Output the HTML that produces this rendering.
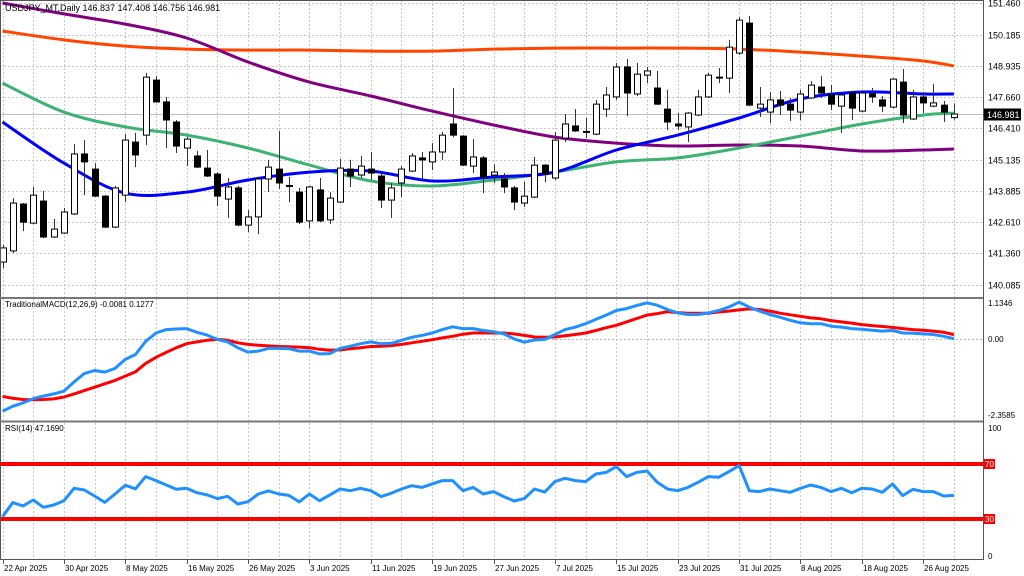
<!DOCTYPE html>
<html><head><meta charset="utf-8"><title>USDJPY Daily</title>
<style>
html,body{margin:0;padding:0;background:#fff;}
svg{display:block;font-family:"Liberation Sans",sans-serif;}
</style></head>
<body>
<svg id="chart" width="1024" height="576" viewBox="0 0 1024 576" xmlns="http://www.w3.org/2000/svg">
<rect x="0" y="0" width="1024" height="576" fill="#fff"/>
<g id="grid"></g>
<g id="ma"></g>
<g id="candles"></g>
<g id="macd"></g>
<g id="rsi"></g>
<g id="axes"></g>
<text x="5" y="11" font-size="9" fill="#000">USDJPY_MT,Daily  146.837 147.408 146.756 146.981</text>
<text x="5" y="307" font-size="8" fill="#000">TraditionalMACD(12,26,9) -0.0081 0.1277</text>
<text x="5" y="431" font-size="8" fill="#000">RSI(14) 47.1690</text>
</svg>
<script>
const opens=[141.01,141.46,143.35,142.58,143.47,142.02,142.18,142.95,145.37,144.76,143.67,142.42,143.71,145.85,146.13,148.35,147.47,146.66,145.61,145.29,144.80,144.56,143.55,144.00,142.50,142.83,144.36,144.76,144.10,143.83,142.67,143.92,142.71,143.43,144.76,144.52,144.76,144.48,143.51,144.20,144.68,145.21,145.05,145.45,146.58,146.09,144.88,145.21,144.52,144.36,144.00,143.39,143.63,144.92,144.40,146.01,146.50,146.28,146.17,147.18,147.67,148.88,147.79,148.55,148.03,147.18,146.58,146.46,146.94,147.67,148.47,148.43,149.44,150.65,147.22,147.06,147.55,147.38,147.06,147.63,148.07,147.75,147.30,147.83,147.10,147.79,147.55,147.26,148.27,146.78,147.67,147.30,147.34,146.837];
const highs=[141.70,143.59,143.39,144.04,143.88,142.75,143.19,145.77,145.93,145.00,143.71,144.08,146.17,146.22,148.64,148.51,147.67,146.74,146.05,145.49,145.53,144.64,144.40,144.08,143.11,144.40,145.13,146.30,144.44,144.00,144.08,144.40,143.83,145.17,145.13,145.29,145.45,144.56,144.20,144.88,145.41,145.45,145.81,146.26,148.03,146.13,145.97,145.29,144.96,144.60,144.08,144.24,145.25,144.96,146.26,146.98,147.18,146.82,147.55,148.07,149.04,149.20,149.04,148.88,148.72,147.95,147.02,147.06,147.95,148.64,148.84,149.97,150.89,150.93,148.07,147.87,147.91,147.63,147.95,148.31,148.51,148.15,147.79,147.87,147.87,148.03,147.71,148.43,148.80,147.95,147.87,148.19,147.51,147.408];
const lows=[140.77,141.37,142.26,142.54,141.98,141.98,142.14,142.91,143.71,143.63,142.38,142.38,143.43,144.84,145.73,147.43,145.61,145.41,144.88,144.80,144.44,143.27,142.79,142.46,142.22,142.14,143.83,143.96,143.43,142.54,142.38,142.62,142.54,143.39,144.04,144.40,144.32,143.19,142.79,143.63,144.64,144.32,144.72,145.13,146.05,144.88,144.60,143.79,144.20,143.79,143.11,143.23,143.59,144.24,144.32,145.85,146.26,146.01,146.13,146.86,147.55,146.90,147.71,148.23,147.34,146.34,146.34,145.85,146.90,147.63,148.23,147.83,149.36,147.30,146.86,146.62,146.94,146.70,146.74,147.59,147.63,147.14,146.22,146.74,147.06,147.43,147.06,147.22,146.62,146.74,147.02,147.26,146.66,146.756];
const closes=[141.58,143.39,142.62,143.71,142.02,142.34,143.03,145.37,145.05,143.67,142.42,144.00,145.93,145.33,148.47,147.47,146.74,145.69,145.97,144.84,144.48,143.67,144.04,142.50,142.83,144.36,144.84,144.20,144.06,142.62,144.04,142.67,143.59,144.80,144.48,144.88,144.60,143.51,144.00,144.76,145.29,145.13,145.45,146.13,146.13,144.92,145.25,144.44,144.64,144.04,143.43,143.67,144.92,144.56,145.93,146.58,146.30,146.24,147.38,147.75,148.88,147.83,148.59,148.72,147.38,146.66,146.50,147.02,147.67,148.55,148.45,149.68,150.77,147.34,147.38,147.55,147.34,147.14,147.79,148.15,147.83,147.38,147.75,147.22,147.83,147.67,147.30,148.39,146.94,147.67,147.43,147.43,147.06,146.981];
const maIdx=[0,6,12,18,24,30,36,42,48,54,60,66,72,78,84,90,93];
const maBlue=[146.66,145.00,143.79,143.83,144.32,144.64,144.68,144.28,144.44,144.64,145.53,146.13,146.82,147.59,147.87,147.79,147.79];
const maGreen=[148.23,147.06,146.46,146.13,145.61,144.92,144.28,144.08,144.32,144.64,145.05,145.21,145.61,146.09,146.58,146.94,147.02];
const maPurple=[151.46,151.02,150.61,150.05,149.08,148.27,147.71,147.10,146.54,146.05,145.81,145.69,145.73,145.69,145.49,145.53,145.57];
const maOrange=[150.33,149.97,149.72,149.60,149.56,149.56,149.52,149.52,149.60,149.64,149.64,149.64,149.60,149.48,149.32,149.12,148.92];
const macdMain=[-2.36,-2.20,-2.09,-1.95,-1.87,-1.80,-1.71,-1.41,-1.14,-1.04,-1.09,-0.97,-0.68,-0.52,-0.09,0.18,0.29,0.31,0.32,0.20,0.11,-0.03,-0.11,-0.30,-0.44,-0.41,-0.32,-0.32,-0.33,-0.41,-0.41,-0.50,-0.49,-0.32,-0.25,-0.17,-0.11,-0.17,-0.16,-0.06,0.04,0.10,0.18,0.29,0.38,0.32,0.32,0.26,0.22,0.15,-0.01,-0.12,-0.05,-0.03,0.13,0.29,0.37,0.48,0.62,0.76,0.91,0.97,1.07,1.16,1.08,0.94,0.83,0.78,0.78,0.83,0.91,1.02,1.18,1.02,0.89,0.78,0.69,0.59,0.51,0.48,0.48,0.40,0.37,0.32,0.30,0.27,0.24,0.26,0.18,0.17,0.15,0.13,0.07,-0.0081];
const macdSignal=[-1.88,-1.94,-1.98,-1.99,-1.98,-1.96,-1.90,-1.80,-1.69,-1.58,-1.47,-1.36,-1.22,-1.08,-0.81,-0.61,-0.45,-0.30,-0.17,-0.11,-0.06,-0.03,-0.06,-0.14,-0.19,-0.22,-0.24,-0.26,-0.27,-0.28,-0.30,-0.35,-0.38,-0.37,-0.33,-0.30,-0.26,-0.25,-0.23,-0.19,-0.14,-0.09,-0.04,0.02,0.07,0.14,0.18,0.18,0.18,0.18,0.15,0.10,0.05,0.04,0.05,0.09,0.13,0.18,0.26,0.35,0.43,0.54,0.65,0.76,0.81,0.87,0.84,0.82,0.82,0.82,0.86,0.89,0.93,0.96,0.94,0.89,0.82,0.77,0.72,0.67,0.64,0.58,0.54,0.50,0.45,0.42,0.39,0.36,0.32,0.29,0.27,0.24,0.20,0.1277];
const rsiValues=[31.7,41.9,39.5,43.8,38.5,40.2,43.3,52.3,51.1,46.7,42.1,48.2,54.5,52.0,60.8,57.9,54.7,51.6,52.3,49.1,47.5,44.8,46.5,40.9,42.6,48.2,50.4,48.2,47.2,42.4,48.2,43.3,47.5,51.8,50.6,52.3,50.6,46.3,48.7,51.8,54.2,53.0,55.5,57.9,57.9,50.6,53.0,48.2,49.9,46.3,43.1,44.8,51.8,49.6,57.2,59.6,57.9,57.2,62.7,63.9,68.1,60.8,63.9,64.9,56.7,51.8,50.6,53.0,56.7,60.8,60.3,64.4,68.8,50.6,49.9,51.8,50.6,49.4,52.3,54.7,53.0,49.9,52.3,49.1,52.3,51.8,49.4,55.5,47.0,51.6,49.9,49.9,46.7,47.169];
const priceTicks=[151.460,150.185,148.935,147.660,146.410,145.135,143.885,142.610,141.360,140.085];
const priceTickLabels=["151.460","150.185","148.935","147.660","146.410","145.135","143.885","142.610","141.360","140.085"];
const dateLabels=["22 Apr 2025","30 Apr 2025","8 May 2025","16 May 2025","26 May 2025","3 Jun 2025","11 Jun 2025","19 Jun 2025","27 Jun 2025","7 Jul 2025","15 Jul 2025","23 Jul 2025","31 Jul 2025","8 Aug 2025","18 Aug 2025","26 Aug 2025"];
const lastPrice=146.981;

const NS="http://www.w3.org/2000/svg";
const AX=983;
function X(i){return 2.5+10.23*i;}
function PY(p){return 3+(151.46-p)*24.79;}
function MY(v){return 338.5-v*30.8;}
function RY(v){return 560.25-1.375*v;}
function mk(tag,attrs,parent){const e=document.createElementNS(NS,tag);for(const k in attrs)e.setAttribute(k,attrs[k]);parent.appendChild(e);return e;}
function smoothPath(pts){
  let d='M'+pts[0][0].toFixed(1)+','+pts[0][1].toFixed(1);
  for(let i=0;i<pts.length-1;i++){
    const p0=pts[Math.max(0,i-1)],p1=pts[i],p2=pts[i+1],p3=pts[Math.min(pts.length-1,i+2)];
    const c1x=p1[0]+(p2[0]-p0[0])/6,c1y=p1[1]+(p2[1]-p0[1])/6;
    const c2x=p2[0]-(p3[0]-p1[0])/6,c2y=p2[1]-(p3[1]-p1[1])/6;
    d+=' C'+c1x.toFixed(1)+','+c1y.toFixed(1)+' '+c2x.toFixed(1)+','+c2y.toFixed(1)+' '+p2[0].toFixed(1)+','+p2[1].toFixed(1);
  }
  return d;
}
const G=document.getElementById('grid'),MA=document.getElementById('ma'),C=document.getElementById('candles'),MC=document.getElementById('macd'),RS=document.getElementById('rsi'),A=document.getElementById('axes');

for(let i=0;i<=93;i+=3){
  const x=Math.round(X(i))+0.5;
  [[0,297],[299,420],[423,559]].forEach(r=>{
    const l=mk('line',{x1:x,x2:x,y1:r[0],y2:r[1],stroke:'#c8c8c8','stroke-dasharray':'2,2','stroke-width':1},G);
    
    
  });
}
priceTicks.forEach((p,k)=>{
  const y=Math.round(PY(p))+0.5;
  const l=mk('line',{x1:0,x2:AX,y1:y,y2:y,stroke:'#c8c8c8','stroke-dasharray':'2,2'},G);
  
  
  const t=mk('text',{x:988,y:y+3,'font-size':9,fill:'#000'},A);
  t.textContent=priceTickLabels[k];
  
  
});
{const y=Math.round(PY(lastPrice))+0.5;
 const l=mk('line',{x1:0,x2:AX,y1:y,y2:y,stroke:'#c0c0c0'},G);
 
 
 const r=mk('rect',{x:984,y:y-6,width:37,height:12,fill:'#000'},A);
 
 
 const t=mk('text',{x:987,y:y+3.5,'font-size':9,fill:'#fff'},A);
 t.textContent=lastPrice.toFixed(3);
 
 
}
function maLine(vals,color,name){
  const pts=maIdx.map((i,k)=>[X(i),PY(vals[k])]);
  const l=mk('path',{d:smoothPath(pts),fill:'none',stroke:color,'stroke-width':3,'stroke-linejoin':'round'},MA);
  
  
}
maLine(maOrange,'#ff4500','ma-orange');
maLine(maPurple,'#800080','ma-purple');
maLine(maGreen,'#3cb371','ma-green');
maLine(maBlue,'#0000ff','ma-blue');
for(let i=0;i<opens.length;i++){
  const x=Math.round(X(i))+0.5;
  const g=mk('g',{},C);
  
  
  mk('line',{x1:x,x2:x,y1:PY(highs[i]),y2:PY(lows[i]),stroke:'#333','stroke-width':1},g);
  const top=PY(Math.max(opens[i],closes[i])),bot=PY(Math.min(opens[i],closes[i]));
  const bull=closes[i]>=opens[i];
  mk('rect',{x:x-3,y:top,width:6,height:Math.max(1,bot-top),fill:bull?'#fff':'#000',stroke:'#000','stroke-width':1},g);
}
{const z=mk('line',{x1:0,x2:AX,y1:Math.round(MY(0))+0.5,y2:Math.round(MY(0))+0.5,stroke:'#bbb','stroke-dasharray':'2,2'},MC);
 
 
 const s=mk('polyline',{points:macdSignal.map((v,i)=>X(i).toFixed(1)+','+MY(v).toFixed(1)).join(' '),fill:'none',stroke:'#ff0000','stroke-width':3,'stroke-linejoin':'round'},MC);
 
 
 const m=mk('polyline',{points:macdMain.map((v,i)=>X(i).toFixed(1)+','+MY(v).toFixed(1)).join(' '),fill:'none',stroke:'#1e90ff','stroke-width':3,'stroke-linejoin':'round'},MC);
 
 
 [['1.1346',306],['0.00',342],['-2.3585',418]].forEach(a=>{
   const t=mk('text',{x:988,y:a[1],'font-size':8,fill:'#000'},A);
   t.textContent=a[0];
   
   
 });
}
[70,30].forEach(v=>{
  const y=RY(v);
  const l=mk('line',{x1:0,x2:AX,y1:y,y2:y,stroke:'#ff0000','stroke-width':4},RS);
  
  
  const r=mk('rect',{x:984,y:y-5,width:11,height:10,fill:'#ff0000'},A);
  
  
  const t=mk('text',{x:985,y:y+3,'font-size':8,fill:'#fff'},A);
  t.textContent=String(v);
  
  
});
{const r=mk('polyline',{points:rsiValues.map((v,i)=>X(i).toFixed(1)+','+RY(v).toFixed(1)).join(' '),fill:'none',stroke:'#1e90ff','stroke-width':3,'stroke-linejoin':'round'},RS);
 
 
 [['100',431],['0',559]].forEach(a=>{
   const t=mk('text',{x:988,y:a[1],'font-size':8,fill:'#000'},A);
   t.textContent=a[0];
   
   
 });
}
[[0,0.5,AX,0.5,1,'#555'],[0.5,0,0.5,560,1,'#555'],[AX+0.5,0,AX+0.5,560,1,'#555'],[0,298,AX,298,2,'#777'],[0,421.5,AX,421.5,2,'#777'],[0,559.5,AX+1,559.5,1,'#555']].forEach(b=>{
  const l=mk('line',{x1:b[0],y1:b[1],x2:b[2],y2:b[3],'stroke-width':b[4],stroke:b[5]},A);
  
  
});
dateLabels.forEach((d,k)=>{
  const x=Math.round(X(k*6));
  const tk=mk('line',{x1:x+0.5,x2:x+0.5,y1:560,y2:564,stroke:'#555'},A);
  
  
  const t=mk('text',{x:x+1,y:571,'font-size':8,fill:'#000'},A);
  t.textContent=d;
  
  
});
</script>
</body></html>
